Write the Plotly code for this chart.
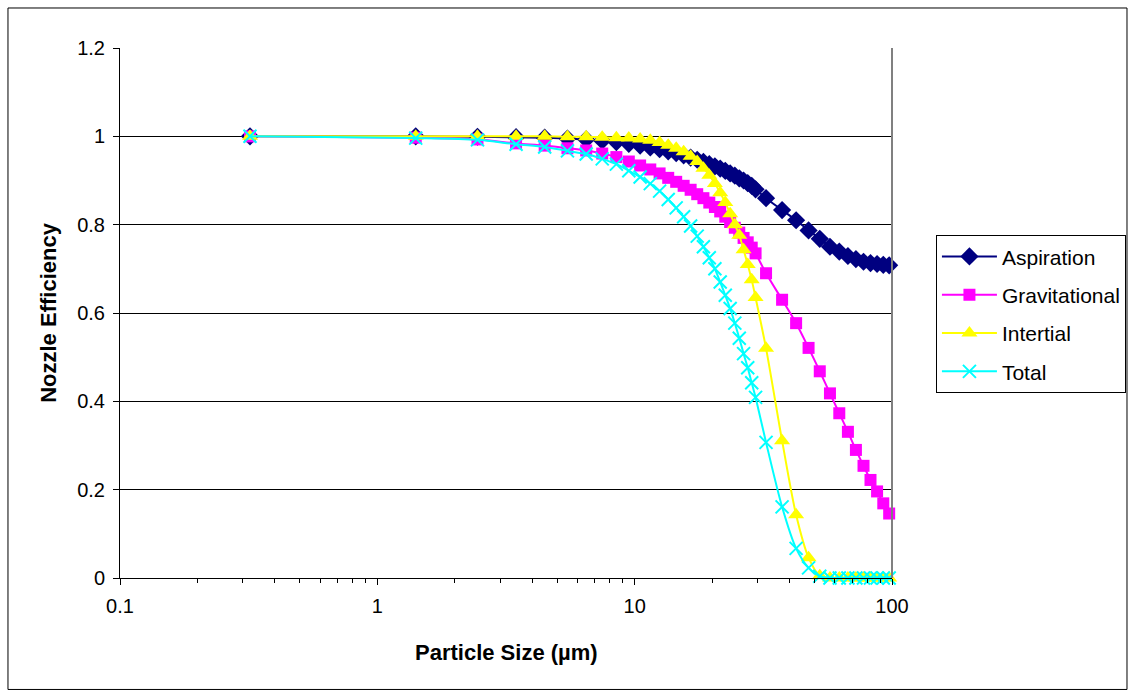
import plotly.graph_objects as go

# Particle size bins (geometric mid-points, micrometres)
particle_size = [0.32, 1.41, 2.45, 3.46, 4.47, 5.48, 6.48, 7.48, 8.49, 9.49,
                 10.5, 11.5, 12.5, 13.5, 14.5, 15.5, 16.5, 17.5, 18.5, 19.5,
                 20.5, 21.5, 22.5, 23.5, 24.5, 25.5, 26.5, 27.5, 28.5, 29.5,
                 32.4, 37.4, 42.4, 47.4, 52.4, 57.4, 62.4, 67.4, 72.4, 77.5,
                 82.5, 87.5, 92.5, 97.5]

aspiration = [1.0, 1.0, 0.999, 0.998, 0.997, 0.995, 0.993, 0.99, 0.987, 0.983,
              0.979, 0.975, 0.971, 0.966, 0.962, 0.957, 0.952, 0.947, 0.942, 0.937,
              0.932, 0.927, 0.922, 0.916, 0.911, 0.905, 0.9, 0.894, 0.888, 0.88,
              0.86, 0.833, 0.81, 0.787, 0.768, 0.75, 0.739, 0.729, 0.722, 0.716,
              0.713, 0.711, 0.709, 0.708]

gravitational = [1.0, 0.997, 0.993, 0.984, 0.979, 0.973, 0.968, 0.961, 0.953, 0.943,
                 0.934, 0.925, 0.916, 0.906, 0.897, 0.888, 0.879, 0.869, 0.86, 0.85,
                 0.84, 0.83, 0.818, 0.806, 0.793, 0.782, 0.77, 0.76, 0.748, 0.735,
                 0.69, 0.63, 0.577, 0.521, 0.468, 0.418, 0.373, 0.331, 0.29, 0.254,
                 0.222, 0.196, 0.169, 0.146]

inertial = [1.0, 1.0, 1.0, 1.0, 1.0, 0.999, 0.999, 0.998, 0.997, 0.996,
            0.994, 0.991, 0.986, 0.98, 0.973, 0.965, 0.955, 0.943, 0.928, 0.912,
            0.893, 0.872, 0.85, 0.825, 0.8, 0.776, 0.743, 0.71, 0.675, 0.635,
            0.52, 0.311, 0.143, 0.046, 0.005, 0.0, 0.0, 0.0, 0.0, 0.0,
            0.0, 0.0, 0.0, 0.0]

total = [1.0, 0.996, 0.992, 0.982, 0.976, 0.967, 0.96, 0.949, 0.937, 0.922,
         0.908, 0.893, 0.876, 0.857, 0.838, 0.818, 0.797, 0.774, 0.75, 0.725,
         0.7, 0.67, 0.64, 0.61, 0.577, 0.543, 0.508, 0.476, 0.442, 0.409,
         0.307, 0.161, 0.067, 0.023, 0.004, 0.0, 0.0, 0.0, 0.0, 0.0,
         0.0, 0.0, 0.0, 0.0]

x_ticks = [0.1, 1, 10, 100]
x_tick_labels = ["0.1", "1", "10", "100"]
y_ticks = [0, 0.2, 0.4, 0.6, 0.8, 1.0, 1.2]
y_tick_labels = ["0", "0.2", "0.4", "0.6", "0.8", "1", "1.2"]

FONT = "Liberation Sans, Arial, sans-serif"

series = [
    ("Aspiration", aspiration, "#000080", dict(symbol="diamond", size=14)),
    ("Gravitational", gravitational, "#FF00FF", dict(symbol="square", size=12)),
    ("Intertial", inertial, "#FFFF00", dict(symbol="triangle-up", size=14)),
    ("Total", total, "#00FFFF", dict(symbol="x-thin", size=13,
                                     line=dict(width=2, color="#00FFFF"))),
]

fig = go.Figure()
for name, values, color, marker in series:
    fig.add_trace(go.Scatter(
        x=particle_size, y=values, name=name, mode="lines+markers",
        line=dict(color=color, width=2, shape="spline", smoothing=0.8),
        marker=dict(color=color, **marker),
        legendgroup=name, cliponaxis=False,
    ))

minor_ticks = [0.2, 0.3, 0.4, 0.5, 0.6, 0.7, 0.8, 0.9,
               2, 3, 4, 5, 6, 7, 8, 9,
               20, 30, 40, 50, 60, 70, 80, 90]

fig.update_layout(
    width=1129, height=690,
    margin=dict(l=120, r=237, t=48, b=112, autoexpand=False),
    paper_bgcolor="white", plot_bgcolor="white",
    font=dict(family=FONT, color="black", size=20),
    xaxis=dict(
        type="log", range=[-1, 2],
        tickvals=x_ticks, ticktext=x_tick_labels,
        ticks="outside", ticklen=6, tickcolor="black", tickwidth=1,
        showline=True, linecolor="black", linewidth=1,
        showgrid=False, zeroline=False,
        tickfont=dict(size=20, family=FONT), ticklabelstandoff=4,
        minor=dict(tickvals=minor_ticks, ticks="outside", ticklen=4,
                   tickcolor="black", showgrid=False),
    ),
    yaxis=dict(
        range=[0, 1.2], tickvals=y_ticks, ticktext=y_tick_labels,
        ticks="outside", ticklen=6, tickcolor="black", tickwidth=1,
        showline=True, linecolor="black", linewidth=1,
        showgrid=True, gridcolor="black", gridwidth=1, zeroline=False,
        tickfont=dict(size=20, family=FONT), ticklabelstandoff=4,
    ),
    legend=dict(
        xref="container", yref="container",
        x=0.829, y=0.659, xanchor="left", yanchor="top",
        bordercolor="black", borderwidth=1, bgcolor="white",
        font=dict(size=21, family=FONT), itemwidth=55,
        tracegroupgap=8,
    ),
    annotations=[
        dict(text="<b>Particle Size (µm)</b>", xref="paper", yref="paper",
             x=0.5, y=-0.1415, xanchor="center", yanchor="middle",
             showarrow=False, font=dict(size=22, family=FONT)),
        dict(text="<b>Nozzle Efficiency</b>", xref="paper", yref="paper",
             x=-0.0935, y=0.5, xanchor="center", yanchor="middle",
             textangle=-90, showarrow=False, font=dict(size=22, family=FONT)),
    ],
    shapes=[
        # outer chart border
        dict(type="rect", xref="paper", yref="paper",
             x0=-0.1451, x1=1.3044, y0=-0.2103, y1=1.0755,
             line=dict(color="black", width=1)),
        # right edge of the plot area
        dict(type="line", xref="paper", yref="paper",
             x0=1, x1=1, y0=0, y1=1, line=dict(color="#808080", width=2)),
    ],
)

fig.write_html("out.html")
